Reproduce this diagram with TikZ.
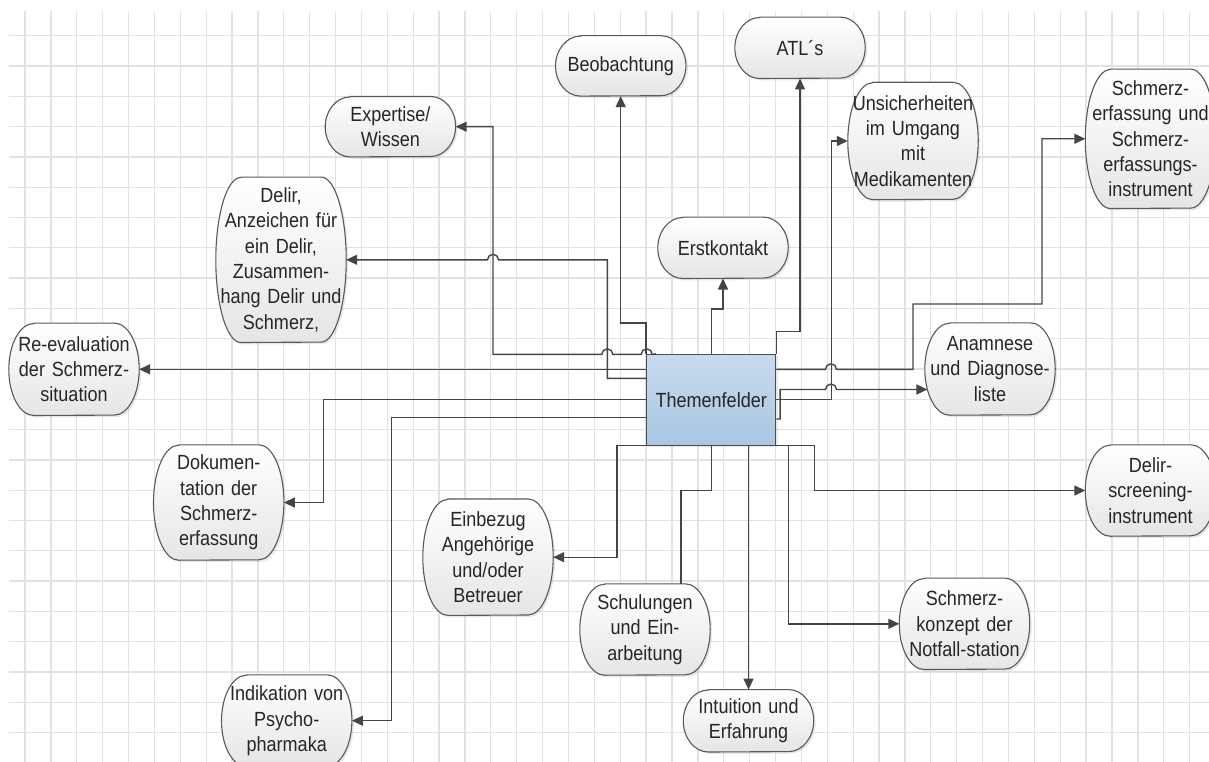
\documentclass[tikz,border=0pt]{standalone}
\usepackage{fontspec}
\setmainfont{Liberation Sans}[FakeStretch=0.88]
\usetikzlibrary{arrows.meta,calc,shadows}
\definecolor{gridc}{HTML}{E2E2E2}
\definecolor{linec}{HTML}{454545}
\definecolor{txt}{HTML}{262626}
\definecolor{boxtop}{HTML}{C8DBEE}
\definecolor{boxbot}{HTML}{A9C6E1}
\pgfdeclarelayer{gridlayer}
\pgfdeclarelayer{shapelayer}
\pgfsetlayers{gridlayer,shapelayer,main}
\newcommand{\nodefont}{\fontsize{20.5}{25.3}\selectfont}
\begin{document}
\begin{tikzpicture}[x=1pt,y=1pt,
  term/.style={inner sep=0pt, text width=130pt, align=center, minimum height=#1, font=\nodefont, text=txt},
  conn/.style={draw=linec, line width=1.4pt},
  arr/.style={conn, -{Triangle[length=11pt,width=10pt]}},
  termshape/.style={draw=black!65, line width=1.1pt, top color=white, bottom color=black!10,
    drop shadow={shadow xshift=2pt, shadow yshift=-2pt, opacity=0.18}}]
\useasboundingbox (0,0) rectangle (1209,-762);
\begin{pgfonlayer}{gridlayer}
\fill[white] (0,0) rectangle (1209,-762);
\foreach \k in {0,...,45} \draw[gridc, line width=1.3pt] ({25+25.88*\k},-11) -- ({25+25.88*\k},-762);
\foreach \j in {0,...,23} \draw[gridc, line width=1.3pt] (9,{-35.7-30.3*\j}) -- (1209,{-35.7-30.3*\j});
\end{pgfonlayer}

% central box
\node[draw=black!70, line width=1.1pt, minimum width=129pt, minimum height=90.7pt, inner sep=0pt,
  top color=boxtop, bottom color=boxbot, font=\nodefont, text=txt,
  drop shadow={shadow xshift=2pt, shadow yshift=-2pt, opacity=0.18}] (box) at (711.2,-399.7) {Themenfelder};

% topic nodes
\node[term=60pt]  (beo) at (620.7,-65.9)  {Beobachtung};
\node[term=61pt]  (atl) at (800,-47.8)    {ATL´s};
\node[term=60pt]  (exp) at (390.4,-126.7) {Expertise/\\Wissen};
\node[term=165pt] (del) at (281,-259.8)   {Delir,\\Anzeichen für\\ein Delir,\\Zusammen-\\hang Delir und\\Schmerz,};
\node[term=117pt] (uns) at (913,-141)     {Unsicherheiten\\im Umgang\\mit\\Medikamenten};
\node[term=139pt] (sme) at (1150.5,-138.8){Schmerz-\\erfassung und\\Schmerz-\\erfassungs-\\instrument};
\node[term=61pt]  (ers) at (723,-247.8)   {Erstkontakt};
\node[term=92pt]  (ree) at (74,-369.3)    {Re-evaluation\\der Schmerz-\\situation};
\node[term=92pt]  (ana) at (990,-369)     {Anamnese\\und Diagnose-\\liste};
\node[term=115pt] (dok) at (218.7,-502.5) {Dokumen-\\tation der\\Schmerz-\\erfassung};
\node[term=116pt] (ein) at (488,-557.2)   {Einbezug\\Angehörige\\und/oder\\Betreuer};
\node[term=91pt]  (sch) at (645,-629.5)   {Schulungen\\und Ein-\\arbeitung};
\node[term=62pt]  (int) at (748.5,-720.8) {Intuition und\\Erfahrung};
\node[term=91pt]  (skz) at (964.5,-623.8) {Schmerz-\\konzept der\\Notfall-station};
\node[term=91pt]  (dsc) at (1150.5,-490.5){Delir-\\screening-\\instrument};
\node[term=91.4pt](ind) at (286.7,-720.7) {Indikation von\\Psycho-\\pharmaka};

\begin{pgfonlayer}{shapelayer}
\foreach \nm/\hh in {beo/30,atl/30.5,exp/30,del/82.5,uns/58.5,sme/69.5,ers/30.5,ree/46,ana/46,dok/57.5,ein/58,sch/45.5,int/31,skz/45.5,dsc/45.5,ind/45.7}{
  \path[termshape] ($(\nm.north west)+(25,0)$) -- ($(\nm.north east)+(-25,0)$)
   arc[start angle=90,end angle=-90,x radius=25,y radius=\hh]
   -- ($(\nm.south west)+(25,0)$)
   arc[start angle=270,end angle=90,x radius=25,y radius=\hh] -- cycle;
}
\end{pgfonlayer}

% connectors
\draw[arr] ($(box.north west)+(10,0)$) -- (652.2,-354.35) arc[start angle=0,end angle=180,radius=5.5]
   -- (612.8,-354.35) arc[start angle=0,end angle=180,radius=5.5] -- (493,-354.35) |- (exp.east);
\draw[arr] ($(box.west)+(0,21.4)$) -- (607.3,-378.3) -- (607.3,-259.8) -- (498.5,-259.8)
   arc[start angle=0,end angle=180,radius=5.5] -- (del.east);
\draw[arr] (box.north west) -- ++(0,31) -| (beo.south);
\draw[arr] ($(box.west)+(0,30.4)$) -- (ree.east);
\draw[arr] (box.west) -| ($(dok.east)+(39.3,0)$) -- (dok.east);
\draw[arr] ($(box.west)+(0,-18)$) -| ($(ind.east)+(39.5,0)$) -- (ind.east);
\draw[arr] (box.south west) -- ++(-29,0) |- (ein.east);
\draw[conn] (box.south) -- ++(0,-45) -| ($(sch.north)+(36,0)$);
\draw[arr] ($(box.south)+(37.3,0)$) -- (int.north);
\draw[arr] (box.south east) -- ++(12.5,0) |- (skz.west);
\draw[arr] (box.south east) -- ++(38.3,0) |- (dsc.west);
\draw[arr] ($(box.east)+(0,-19.3)$) -- ++(3.8,0) -- ++(0,29.5) -- (825.5,-389.5)
   arc[start angle=180,end angle=0,radius=5.5] -- ($(ana.west)+(2.6,-20.5)$);
\draw[arr] (box.east) -| ($(uns.west)+(-16.5,0)$) -- (uns.west);
\draw[arr] ($(box.east)+(0,30.4)$) -- (825.5,-369.3) arc[start angle=180,end angle=0,radius=5.5]
   -- (913,-369.3) -- (913,-304) -- (1042,-304) |- (sme.west);
\draw[arr] (box.north east) -- ++(0,22.6) -| (atl.south);
\draw[arr] (box.north) -- ++(0,45) -| (ers.south);
\end{tikzpicture}
\end{document}
